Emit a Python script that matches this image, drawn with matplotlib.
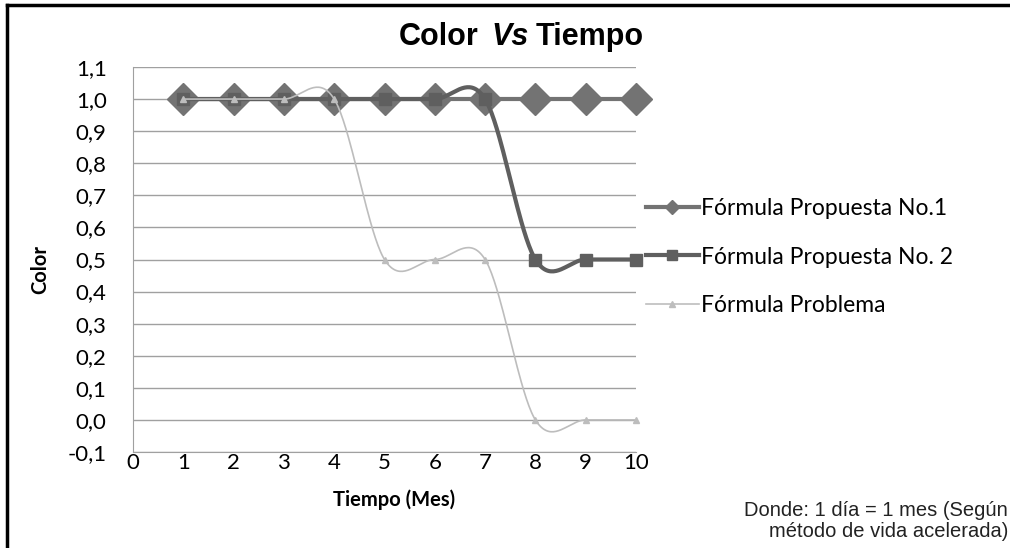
import numpy as np
import matplotlib
matplotlib.use("Agg")
import matplotlib.pyplot as plt
from matplotlib.lines import Line2D

months = [1, 2, 3, 4, 5, 6, 7, 8, 9, 10]
propuesta1 = [1.0, 1.0, 1.0, 1.0, 1.0, 1.0, 1.0, 1.0, 1.0, 1.0]
propuesta2 = [1.0, 1.0, 1.0, 1.0, 1.0, 1.0, 1.0, 0.5, 0.5, 0.5]
problema = [1.0, 1.0, 1.0, 1.0, 0.5, 0.5, 0.5, 0.0, 0.0, 0.0]
labels = ["Fórmula Propuesta No.1", "Fórmula Propuesta No. 2", "Fórmula Problema"]
yticks = [-0.1, 0.0, 0.1, 0.2, 0.3, 0.4, 0.5, 0.6, 0.7, 0.8, 0.9, 1.0, 1.1]
xticks = [0, 1, 2, 3, 4, 5, 6, 7, 8, 9, 10]


def smooth(xs, ys, n=40):
    """Excel-style smoothed line (Catmull-Rom / Bezier through the points)."""
    xs = np.asarray(xs, float)
    ys = np.asarray(ys, float)
    px = np.concatenate([[xs[0]], xs, [xs[-1]]])
    py = np.concatenate([[ys[0]], ys, [ys[-1]]])
    ox, oy = [], []
    t = np.linspace(0, 1, n)
    for i in range(1, len(px) - 2):
        p0 = np.array([px[i - 1], py[i - 1]])
        p1 = np.array([px[i], py[i]])
        p2 = np.array([px[i + 1], py[i + 1]])
        p3 = np.array([px[i + 2], py[i + 2]])
        c1 = p1 + (p2 - p0) / 6.0
        c2 = p2 - (p3 - p1) / 6.0
        b = ((1 - t) ** 3)[:, None] * p1 + (3 * (1 - t) ** 2 * t)[:, None] * c1 \
            + (3 * (1 - t) * t ** 2)[:, None] * c2 + (t ** 3)[:, None] * p2
        ox.extend(b[:, 0])
        oy.extend(b[:, 1])
    return np.array(ox), np.array(oy)


W, H = 1010, 548
fig = plt.figure(figsize=(W / 100, H / 100), dpi=100)
ax = fig.add_axes([133 / W, 1 - 452 / H, (636 - 133) / W, (452 - 67) / H])

ax.set_xlim(0, 10)
ax.set_ylim(-0.1, 1.1)
ax.set_yticks(yticks)
ax.set_yticklabels([f"{v:.1f}".replace(".", ",") for v in yticks])
ax.set_xticks(xticks)
ax.set_xticklabels([str(v) for v in xticks])
ax.yaxis.grid(True, color="#a0a0a0", linewidth=1.0)
ax.set_axisbelow(True)
for s in ["top", "right"]:
    ax.spines[s].set_visible(False)
ax.spines["left"].set_color("#a0a0a0")
ax.spines["bottom"].set_color("#a0a0a0")
ax.tick_params(axis="both", length=0, labelsize=16, colors="black")
ax.tick_params(axis="y", pad=19)
ax.tick_params(axis="x", pad=1)
for lbl in ax.get_xticklabels() + ax.get_yticklabels():
    lbl.set_family("Lato")

c1, c2, c3 = "#737373", "#5f5f5f", "#bdbdbd"

sx, sy = smooth(months, propuesta1)
ax.plot(sx, sy, color=c1, lw=3, zorder=3, clip_on=False)
ax.plot(months, propuesta1, ls="none", marker="D", ms=16, color=c1, zorder=3, clip_on=False)

sx, sy = smooth(months, propuesta2)
ax.plot(sx, sy, color=c2, lw=3, zorder=4, clip_on=False)
ax.plot(months, propuesta2, ls="none", marker="s", ms=9, color=c2, zorder=4, clip_on=False)

sx, sy = smooth(months, problema)
ax.plot(sx, sy, color=c3, lw=1.2, zorder=5, clip_on=False)
ax.plot(months, problema, ls="none", marker="^", ms=4.5, color=c3, zorder=5, clip_on=False)

handles = [
    Line2D([], [], color=c1, lw=3, marker="D", ms=7),
    Line2D([], [], color=c2, lw=3, marker="s", ms=7),
    Line2D([], [], color=c3, lw=1.2, marker="^", ms=4),
]
leg = fig.legend(handles, labels, loc="center left", bbox_to_anchor=(646 / W, 1 - 257 / H),
                 frameon=False, prop={"family": "Lato", "size": 16.5}, handlelength=2.3,
                 handletextpad=0.12, labelspacing=1.18, borderpad=0, borderaxespad=0)

# Title composed of pieces for the italic "Vs"
tk = dict(fontsize=22, fontweight="bold", family="Liberation Sans", va="baseline")
t1 = fig.text(0, 0, "Color", **tk)
t2 = fig.text(0, 0, "Vs", fontstyle="italic", **tk)
t3 = fig.text(0, 0, "Tiempo", **tk)
fig.canvas.draw()
r = fig.canvas.get_renderer()
w1 = t1.get_window_extent(r).width
w2 = t2.get_window_extent(r).width
w3 = t3.get_window_extent(r).width
gap1, gap2 = 13, 7
total = w1 + w2 + w3 + gap1 + gap2
x0 = 521 - total / 2
ybase = 1 - 45 / H
t1.set_position((x0 / W, ybase))
t2.set_position(((x0 + w1 + gap1) / W, ybase))
t3.set_position(((x0 + w1 + w2 + gap1 + gap2) / W, ybase))

fig.text(40 / W, 1 - 270 / H, "Color", rotation=90, ha="center", va="center",
         fontsize=14.5, fontweight="bold", family="Lato")
fig.text(394 / W, 1 - 500 / H, "Tiempo (Mes)", ha="center", va="center",
         fontsize=14.5, fontweight="bold", family="Lato")
fig.text(1008 / W, 1 - 521 / H, "Donde: 1 día = 1 mes (Según\nmétodo de vida acelerada)",
         ha="right", va="center", fontsize=14.5, family="Liberation Sans", linespacing=1.1,
         color="#222222")

# figure border (top and left)
fig.add_artist(Line2D([7 / W, 1.0], [1 - 5 / H, 1 - 5 / H], color="black", lw=2.5,
                      transform=fig.transFigure))
fig.add_artist(Line2D([7 / W, 7 / W], [0.0, 1 - 5 / H], color="black", lw=2.5,
                      transform=fig.transFigure))

fig.savefig("out.png", dpi=100)
